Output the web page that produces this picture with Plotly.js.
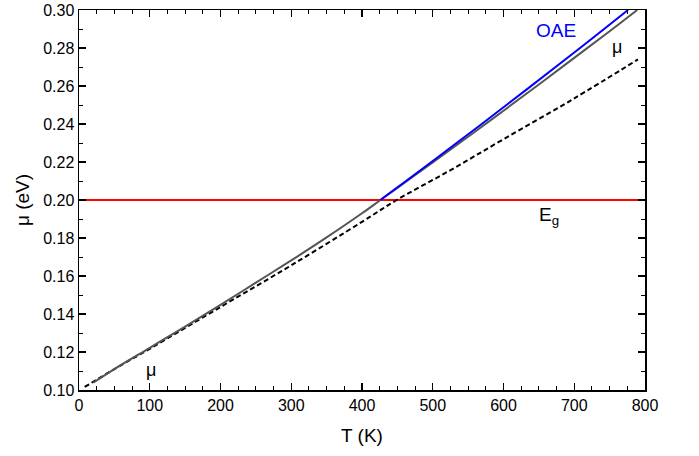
<!DOCTYPE html>
<html>
<head>
<meta charset="utf-8">
<script src="https://cdn.plot.ly/plotly-3.0.1.min.js"></script>
<style>html,body{margin:0;padding:0;background:#fff;}#chart{width:699px;height:456px;}</style>
</head>
<body>
<div id="chart"></div>
<script>
// Data
const muT = [20, 50, 100, 150, 200, 250, 300, 350, 400, 426, 450, 500, 550, 600, 650, 700, 750, 789];
const muVal = [0.1038, 0.1110, 0.1222, 0.1334, 0.1448, 0.1565, 0.1682, 0.1803, 0.1930, 0.2000, 0.2064, 0.2198, 0.2333, 0.2470, 0.2608, 0.2748, 0.2888, 0.3000];

const oaeT = [426, 500, 600, 700, 776];
const oaeVal = [0.2000, 0.2205, 0.2488, 0.2776, 0.3000];

const dashT = [8, 50, 100, 200, 300, 400, 449, 524, 600, 700, 790];
const dashVal = [0.1016, 0.1110, 0.1217, 0.1437, 0.1656, 0.1885, 0.2000, 0.2155, 0.2320, 0.2535, 0.2740];

const egT = [0, 800];
const egVal = [0.20, 0.20];

const xTicks = [0, 100, 200, 300, 400, 500, 600, 700, 800];
const yTicks = [0.10, 0.12, 0.14, 0.16, 0.18, 0.20, 0.22, 0.24, 0.26, 0.28, 0.30];

const font = 'Liberation Sans, Arial, sans-serif';

const traces = [
  {x: egT, y: egVal, mode: 'lines', line: {color: '#ff0000', width: 2}},
  {x: dashT, y: dashVal, mode: 'lines', line: {color: '#000000', width: 2, dash: '5px,3px', shape: 'spline'}},
  {x: muT, y: muVal, mode: 'lines', line: {color: '#555555', width: 2, shape: 'spline'}},
  {x: oaeT, y: oaeVal, mode: 'lines', line: {color: '#0000ff', width: 2, shape: 'spline'}}
];

const axisCommon = {
  showline: true, linecolor: '#000', linewidth: 1.5, mirror: 'ticks',
  ticks: 'inside', ticklen: 7, tickwidth: 1.2, tickcolor: '#000',
  showgrid: false, zeroline: false,
  tickfont: {family: font, size: 16, color: '#000'}
};

const layout = {
  width: 699, height: 456,
  margin: {l: 79, r: 54, t: 10, b: 66},
  paper_bgcolor: '#fff', plot_bgcolor: '#fff',
  showlegend: false,
  xaxis: Object.assign({}, axisCommon, {
    range: [0, 800], tickvals: xTicks, ticktext: xTicks.map(String),
    minor: {dtick: 25, tick0: 0, ticks: 'inside', ticklen: 4, tickwidth: 1, tickcolor: '#000'},
    title: {text: 'T (K)', font: {family: font, size: 19, color: '#000'}, standoff: 16}
  }),
  yaxis: Object.assign({}, axisCommon, {
    range: [0.10, 0.30], tickvals: yTicks, ticktext: yTicks.map(v => v.toFixed(2)),
    minor: {dtick: 0.01, tick0: 0, ticks: 'inside', ticklen: 4, tickwidth: 1, tickcolor: '#000'},
    title: {text: 'μ (eV)', font: {family: font, size: 19, color: '#000'}, standoff: 8}
  }),
  annotations: [
    {x: 674, y: 0.289, text: 'OAE', showarrow: false, font: {family: font, size: 19, color: '#0000ff'}},
    {x: 760, y: 0.2805, text: 'μ', showarrow: false, font: {family: font, size: 18, color: '#000'}},
    {x: 102, y: 0.1105, text: 'μ', showarrow: false, font: {family: font, size: 18, color: '#000'}},
    {x: 664, y: 0.1915, text: 'E<sub>g</sub>', showarrow: false, font: {family: font, size: 19, color: '#000'}}
  ]
};

Plotly.newPlot('chart', traces, layout, {staticPlot: true, displayModeBar: false});
</script>
</body>
</html>
